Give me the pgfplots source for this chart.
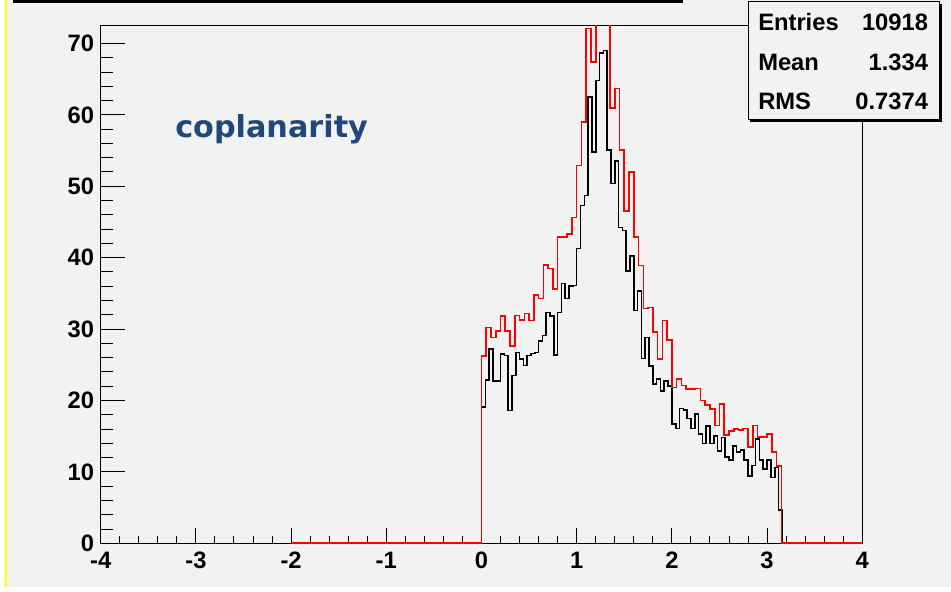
\documentclass[border=0pt]{standalone}
\usepackage{fontspec}
\setmainfont{Liberation Sans}
\newfontfamily\labelfont{DejaVu Sans}
\usepackage{pgfplots}
\pgfplotsset{compat=1.18}
\usepackage{pgfplotstable}

\definecolor{canvasgray}{RGB}{242,242,242}
\definecolor{titleblue}{RGB}{31,73,125}
\definecolor{edgeyellow}{RGB}{255,255,0}

\newcommand{\statfont}{\fontsize{17.8}{20}\selectfont\bfseries}

% coplanarity histogram, second selection (red): bins of 0.05 on [-2,4]
\pgfplotstableread{
x y
-2 0
0.00 26.2
0.05 30.2
0.10 28.8
0.15 29.7
0.20 31.8
0.25 29.7
0.30 27.6
0.35 31.9
0.40 31.3
0.45 32.2
0.50 31.2
0.55 34.8
0.60 34.3
0.65 39.0
0.70 38.5
0.75 35.6
0.80 42.9
0.85 42.9
0.90 43.3
0.95 45.6
1.00 52.9
1.05 59.0
1.10 72.1
1.15 67.4
1.20 76
1.25 78
1.30 75
1.35 61.0
1.40 63.7
1.45 55.1
1.50 46.5
1.55 52.0
1.60 42.9
1.65 38.9
1.70 32.9
1.75 33.0
1.80 29.6
1.85 25.8
1.90 31.2
1.95 28.5
2.00 21.8
2.05 23.0
2.10 22.1
2.15 21.6
2.20 21.6
2.25 21.7
2.30 20.0
2.35 19.4
2.40 18.8
2.45 16.5
2.50 19.5
2.55 15.2
2.60 15.7
2.65 16.0
2.70 15.9
2.75 16.1
2.80 13.5
2.85 16.5
2.90 14.9
2.95 14.9
3.00 15.3
3.05 12.8
3.10 10.8
3.15 0
4 0
}\redhist

% coplanarity histogram, first selection (black): bins of 0.04
\pgfplotstableread{
x y
0.00 0
0.00 19.1
0.04 22.9
0.08 27.2
0.12 22.7
0.16 22.7
0.20 26.5
0.24 26.3
0.28 18.6
0.32 23.5
0.36 26.7
0.40 25.8
0.44 24.9
0.48 26.3
0.52 26.6
0.56 26.7
0.60 28.3
0.64 29.1
0.68 32.3
0.72 31.8
0.76 26.4
0.80 32.3
0.84 36.4
0.88 34.3
0.92 36.0
0.96 36.1
1.00 41.3
1.04 47.3
1.08 48.7
1.12 62.5
1.16 54.8
1.20 64.8
1.24 68.7
1.28 69.0
1.32 55.1
1.36 50.4
1.40 53.5
1.44 44.2
1.48 43.8
1.52 38.1
1.56 40.2
1.60 32.6
1.64 35.3
1.68 25.9
1.72 28.8
1.76 24.8
1.80 22.3
1.84 23.0
1.88 21.3
1.92 22.7
1.96 22.0
2.00 16.7
2.04 16.1
2.08 18.9
2.12 18.7
2.16 17.5
2.20 16.1
2.24 18.1
2.28 15.3
2.32 14.0
2.36 16.4
2.40 14.0
2.44 15.0
2.48 12.9
2.52 14.8
2.56 12.1
2.60 11.7
2.64 13.6
2.68 12.8
2.72 13.1
2.76 11.7
2.80 9.4
2.84 10.9
2.88 14.6
2.92 11.7
2.96 10.4
3.00 11.7
3.04 9.2
3.08 10.6
3.12 4.7
3.16 0
}\blackhist

\pgfplotsset{
  framegeom/.style={
    at={(75.525pt,36.525pt)}, anchor=south west,
    width=571.2pt, height=388pt, scale only axis,
    xmin=-4, xmax=4, ymin=0, ymax=72.45,
    every tick/.style={black, line width=0.75pt},
    axis line style={black, line width=0.8pt},
  },
}

\begin{document}
\begin{tikzpicture}[x=0.75pt,y=0.75pt]
% canvas
\path[use as bounding box] (0,0) rectangle (951,592);
\fill[white] (0,0) rectangle (951,592);
\fill[canvasgray] (6,5.3) rectangle (951,592);
\fill[edgeyellow] (5,5.3) rectangle (7.3,592);
\fill[black] (13,589.3) rectangle (683,592);

% frame with the x ticks
\begin{axis}[
  framegeom,
  xtick={-4,-3,-2,-1,0,1,2,3,4},
  xticklabels={-4,-3,-2,-1,0,1,2,3,4},
  minor x tick num=4,
  ytick=\empty,
  xtick pos=left,
  xtick align=inside,
  major tick length=11.25pt, minor tick length=5.6pt,
  xticklabel style={font=\statfont, anchor=north, inner sep=0pt, yshift=-6.3pt},
]
\end{axis}

% y ticks (longer than the x ticks)
\begin{axis}[
  framegeom,
  xtick=\empty,
  ytick={0,10,20,30,40,50,60,70},
  yticklabels={0,10,20,30,40,50,60,70},
  minor y tick num=4,
  ytick pos=left,
  ytick align=inside,
  major tick length=18pt, minor tick length=9pt,
  yticklabel style={font=\statfont, anchor=east, inner sep=0pt, xshift=-4.8pt},
]
\end{axis}

% histograms; the clip box reaches a little below zero so that the
% empty bins stay visible on top of the x axis line
\begin{axis}[
  at={(75.525pt,34.383pt)}, anchor=south west,
  width=571.2pt, height=390.144pt, scale only axis,
  xmin=-4, xmax=4, ymin=-0.4, ymax=72.45,
  xtick=\empty, ytick=\empty,
  axis line style={draw=none},
]
\addplot[black, line width=1.2pt, const plot, mark=none] table[x=x, y=y] {\blackhist};
\addplot[red, line width=1.2pt, const plot, mark=none] table[x=x, y=y] {\redhist};
\end{axis}

% statistics box
\fill[black] (750,470) rectangle (941.5,588);
\filldraw[fill=canvasgray, draw=black, line width=0.75pt] (748,472) rectangle (939.5,590);
\node[anchor=base west, inner sep=0pt, font=\statfont] at (758,561.3) {Entries};
\node[anchor=base east, inner sep=0pt, font=\statfont] at (928.3,561.3) {10918};
\node[anchor=base west, inner sep=0pt, font=\statfont] at (758,521.3) {Mean};
\node[anchor=base east, inner sep=0pt, font=\statfont] at (928.3,521.3) {1.334};
\node[anchor=base west, inner sep=0pt, font=\statfont] at (758,482.7) {RMS};
\node[anchor=base east, inner sep=0pt, font=\statfont] at (928.3,482.7) {0.7374};

% label
\node[anchor=base west, inner sep=0pt, text=titleblue, font=\labelfont\fontsize{22.7}{26}\selectfont\bfseries] at (175,454) {coplanarity};
\end{tikzpicture}
\end{document}
